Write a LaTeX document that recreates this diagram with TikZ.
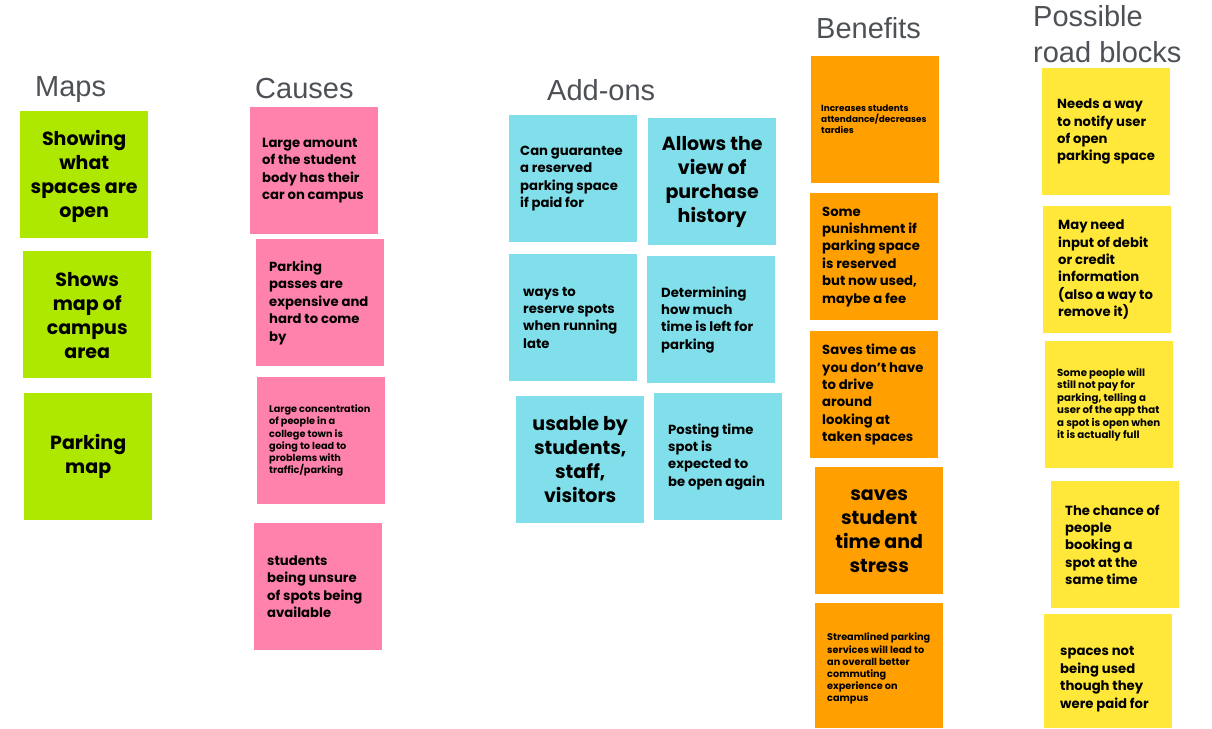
\documentclass[tikz,border=0pt]{standalone}
\usepackage{fontspec}
\setmainfont{Poppins}
\newfontfamily\headfont{Liberation Sans}
\definecolor{gnote}{HTML}{AEE800}
\definecolor{pnote}{HTML}{FF82AC}
\definecolor{cnote}{HTML}{80DFEA}
\definecolor{onote}{HTML}{FF9F00}
\definecolor{ynote}{HTML}{FFE83A}
\definecolor{headgray}{HTML}{4D5156}
\tikzset{
  note/.style={anchor=north west, minimum width=128pt, minimum height=127pt, inner sep=0pt},
  txt/.style={anchor=west, inner sep=0pt, align=left, text=black},
  small/.style={txt, font=\fontsize{13.2}{17.4}\selectfont\bfseries},
  large/.style={anchor=center, inner sep=0pt, text=black, align=center, font=\fontsize{19}{24}\selectfont\bfseries},
  tiny/.style={txt, font=\fontsize{9.7}{12.2}\selectfont\bfseries},
  tinier/.style={txt, font=\fontsize{8.9}{11}\selectfont\bfseries},
  heading/.style={anchor=base west, inner sep=0pt, text=headgray, font=\fontsize{29}{36}\selectfont\headfont},
  gn/.style={note, fill=gnote},
  pn/.style={note, fill=pnote},
  cn/.style={note, fill=cnote},
  on/.style={note, fill=onote},
  yn/.style={note, fill=ynote}
}
\begin{document}
\begin{tikzpicture}[x=1pt, y=-1pt]
\useasboundingbox[fill=white] (0,0) rectangle (1212,728);
% headings
\node[heading] (hmaps) at (35,96) {Maps};
\node[heading] (hcauses) at (255,98) {Causes};
\node[heading] (hadd) at (547,100) {Add-ons};
\node[heading] (hben) at (816,38) {Benefits};
\node[heading] (hroad1) at (1033,27) {Possible};
\node[heading] (hroad2) at (1033,62) {road blocks};
% Maps
\node[gn] (g1) at (20,111) {};
\node[large] (g1t) at ([yshift=-2pt]g1.center) {Showing\\what\\spaces are\\open};
\node[gn] (g2) at (23,251) {};
\node[large] (g2t) at ([yshift=-1pt]g2.center) {Shows\\map of\\campus\\area};
\node[gn] (g3) at (24,393) {};
\node[large] (g3t) at (g3.center) {Parking\\map};
% Causes
\node[pn] (p1) at (250,107) {};
\node[small] (p1t) at ([xshift=12pt]p1.west) {Large amount\\of the student\\body has their\\car on campus};
\node[pn] (p2) at (256,239) {};
\node[small] (p2t) at ([xshift=13pt]p2.west) {Parking\\passes are\\expensive and\\hard to come\\by};
\node[pn] (p3) at (257,377) {};
\node[tiny] (p3t) at ([xshift=12pt]p3.west) {Large concentration\\of people in a\\college town is\\going to lead to\\problems with\\traffic/parking};
\node[pn] (p4) at (254,523) {};
\node[small] (p4t) at ([xshift=13pt]p4.west) {students\\being unsure\\of spots being\\available};
% Add-ons
\node[cn] (c1) at (509,115) {};
\node[small] (c1t) at ([xshift=11pt]c1.west) {Can guarantee\\a reserved\\parking space\\if paid for};
\node[cn] (c2) at (648,118) {};
\node[large] (c2t) at (c2.center) {Allows the\\view of\\purchase\\history};
\node[cn] (c3) at (509,254) {};
\node[small] (c3t) at ([xshift=14pt]c3.west) {ways to\\reserve spots\\when running\\late};
\node[cn] (c4) at (647,256) {};
\node[small] (c4t) at ([xshift=14pt]c4.west) {Determining\\how much\\time is left for\\parking};
\node[cn] (c5) at (516,396) {};
\node[large] (c5t) at (c5.center) {usable by\\students,\\staff,\\visitors};
\node[cn] (c6) at (654,393) {};
\node[small] (c6t) at ([xshift=14pt]c6.west) {Posting time\\spot is\\expected to\\be open again};
% Benefits
\node[on] (o1) at (811,56) {};
\node[tinier] (o1t) at ([xshift=10pt]o1.west) {Increases students\\attendance/decreases\\tardies};
\node[on] (o2) at (810,193) {};
\node[small] (o2t) at ([xshift=12pt]o2.west) {Some\\punishment if\\parking space\\is reserved\\but now used,\\maybe a fee};
\node[on] (o3) at (810,331) {};
\node[small] (o3t) at ([xshift=12pt]o3.west) {Saves time as\\you don't have\\to drive\\around\\looking at\\taken spaces};
\node[on] (o4) at (815,467) {};
\node[large] (o4t) at (o4.center) {saves\\student\\time and\\stress};
\node[on, minimum height=125pt] (o5) at (815,603) {};
\node[tiny] (o5t) at ([xshift=12pt, yshift=-3pt]o5.west) {Streamlined parking\\services will lead to\\an overall better\\commuting\\experience on\\campus};
% Road blocks
\node[yn] (y1) at (1042,68) {};
\node[small] (y1t) at ([xshift=15pt]y1.west) {Needs a way\\to notify user\\of open\\parking space};
\node[yn] (y2) at (1043,206) {};
\node[small] (y2t) at ([xshift=15pt]y2.west) {May need\\input of debit\\or credit\\information\\(also a way to\\remove it)};
\node[yn] (y3) at (1045,341) {};
\node[tiny, font=\fontsize{10.2}{12.4}\selectfont\bfseries] (y3t) at ([xshift=12pt]y3.west) {Some people will\\still not pay for\\parking, telling a\\user of the app that\\a spot is open when\\it is actually full};
\node[yn] (y4) at (1051,481) {};
\node[small] (y4t) at ([xshift=14pt]y4.west) {The chance of\\people\\booking a\\spot at the\\same time};
\node[yn, minimum height=114pt] (y5) at (1044,614) {};
\node[small] (y5t) at ([xshift=16pt, yshift=-8pt]y5.west) {spaces not\\being used\\though they\\were paid for};
\end{tikzpicture}
\end{document}
